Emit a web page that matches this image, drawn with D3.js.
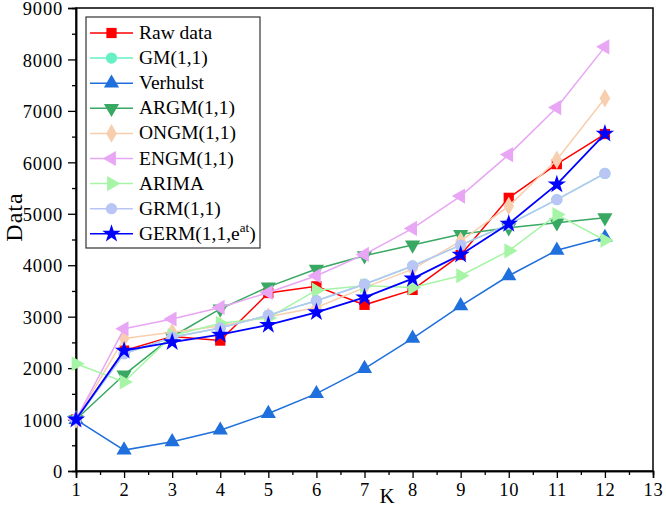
<!DOCTYPE html>
<html><head><meta charset="utf-8">
<script src="https://cdn.jsdelivr.net/npm/d3@7"></script>
<style>body{margin:0;background:#fff;} svg{display:block;} text{font-family:"Liberation Serif","DejaVu Serif","Noto Serif",serif;}</style>
</head><body>
<script>
const K = [1,2,3,4,5,6,7,8,9,10,11,12];
const rawData  = [1000,2340,2615,2535,3460,3590,3230,3520,4200,5310,5965,6550];
const gm11     = [1000,2280,2600,2780,3030,3310,3630,3985,4390,4795,5275,5785];
const verhulst = [1000,406,567,793,1117,1503,1990,2580,3210,3795,4290,4540];
const argm     = [1000,1870,2610,3150,3580,3925,4185,4395,4600,4730,4825,4925];
const ongm     = [1000,2575,2695,2820,3000,3180,3565,3925,4470,5150,6050,7245];
const engm     = [1000,2765,2955,3180,3470,3795,4210,4715,5345,6150,7065,8245];
const arima    = [2085,1730,2630,2870,2975,3515,3600,3565,3795,4280,4985,4485];
const grm      = [1000,2280,2600,2780,3030,3310,3630,3985,4390,4795,5275,5785];
const germ     = [1000,2340,2505,2650,2840,3085,3375,3740,4205,4805,5570,6555];
const yTicks = [0,1000,2000,3000,4000,5000,6000,7000,8000,9000];
const xTicks = [1,2,3,4,5,6,7,8,9,10,11,12,13];

const series = [
  {name:"Raw data", values:rawData, color:"#ff0000", sym:d3.symbolSquare, size:105, rot:0},
  {name:"GM(1,1)", values:gm11, color:"#66f0c4", sym:d3.symbolCircle, size:100, rot:0},
  {name:"Verhulst", values:verhulst, color:"#1f6fdc", sym:d3.symbolTriangle, size:100, rot:0},
  {name:"ARGM(1,1)", values:argm, color:"#38a862", sym:d3.symbolTriangle, size:100, rot:180},
  {name:"ONGM(1,1)", values:ongm, color:"#f8cfae", sym:d3.symbolDiamond, size:100, rot:0},
  {name:"ENGM(1,1)", values:engm, color:"#e8a6f5", sym:d3.symbolTriangle, size:100, rot:-90},
  {name:"ARIMA", values:arima, color:"#a6f5a6", sym:d3.symbolTriangle, size:100, rot:90},
  {name:"GRM(1,1)", values:grm, color:"#b9c5f5", sym:d3.symbolCircle, size:100, rot:0},
  {name:"GERM(1,1,e", sup:"at", values:germ, color:"#0000ff", sym:d3.symbolStar, size:105, rot:0}
];

const W=666,H=509;
const L=76,R=653,T=8,B=471;
const svg=d3.select("body").append("svg").attr("width",W).attr("height",H);
const x=d3.scaleLinear().domain([1,13]).range([L,R]);
const y=d3.scaleLinear().domain([0,9000]).range([B,T]);
const font="'Liberation Serif','DejaVu Serif','Noto Serif',serif";

// frame
svg.append("rect").attr("x",L).attr("y",T).attr("width",R-L).attr("height",B-T)
  .attr("fill","none").attr("stroke","#000").attr("stroke-width",1.5);

// y axis
const ya=svg.append("g").attr("transform",`translate(${L},0)`)
  .call(d3.axisLeft(y).tickValues(yTicks).tickSize(8).tickPadding(5).tickFormat(d3.format("d")));
const yminor=svg.append("g").attr("transform",`translate(${L},0)`)
  .call(d3.axisLeft(y).tickValues(d3.range(500,9000,1000)).tickSize(4).tickFormat(""));
// x axis
const xa=svg.append("g").attr("transform",`translate(0,${B})`)
  .call(d3.axisBottom(x).tickValues(xTicks).tickSize(7).tickPadding(5).tickFormat(d3.format("d")));
const xminor=svg.append("g").attr("transform",`translate(0,${B})`)
  .call(d3.axisBottom(x).tickValues(d3.range(1.5,13,1)).tickSize(4).tickFormat(""));
[ya,yminor,xa,xminor].forEach(g=>{
  g.attr("font-family",font);
  g.select(".domain").attr("stroke","#000").attr("stroke-width",1.5);
  g.selectAll(".tick line").attr("stroke","#000").attr("stroke-width",1.3);
  g.selectAll("text").attr("font-family",font).attr("font-size",18.5).attr("fill","#000")
    .attr("letter-spacing",0.8);
});
ya.selectAll("text").attr("dy","0.36em");

// axis titles
svg.append("text").attr("transform","translate(22,217) rotate(-90)")
  .attr("text-anchor","middle").attr("font-family",font).attr("font-size",24)
  .attr("letter-spacing",1).text("Data");
svg.append("text").attr("x",387).attr("y",503).attr("text-anchor","middle")
  .attr("font-family",font).attr("font-size",21).text("K");

// lines and markers
const line=d3.line().x((d,i)=>x(K[i])).y(d=>y(d));
series.forEach(s=>{
  const g=svg.append("g");
  g.append("path").attr("d",line(s.values)).attr("fill","none")
    .attr("stroke",s.color).attr("stroke-width",s.name.startsWith("GERM")?1.8:1.5);
  g.selectAll("path.m").data(s.values).enter().append("path").attr("class","m")
    .attr("d",d3.symbol().type(s.sym).size(s.size))
    .attr("transform",(d,i)=>`translate(${x(K[i])},${y(d)}) rotate(${s.rot})`)
    .attr("fill",s.color);
});

// legend
const lg=svg.append("g");
lg.append("rect").attr("x",86).attr("y",17).attr("width",174).attr("height",231)
  .attr("fill","#fff").attr("stroke","#333").attr("stroke-width",1.2);
series.forEach((s,i)=>{
  const cy=33+i*25.1;
  lg.append("line").attr("x1",90).attr("x2",133).attr("y1",cy).attr("y2",cy)
    .attr("stroke",s.color).attr("stroke-width",1.5);
  lg.append("path").attr("d",d3.symbol().type(s.sym).size(s.size))
    .attr("transform",`translate(111.5,${cy}) rotate(${s.rot})`).attr("fill",s.color);
  const t=lg.append("text").attr("x",139).attr("y",cy+6).attr("font-family",font)
    .attr("font-size",19.5).attr("fill","#000").text(s.name);
  if(s.sup){
    t.append("tspan").attr("font-size",13).attr("dy",-8).text(s.sup);
    t.append("tspan").attr("dy",8).text(")");
  }
});
</script>
</body></html>
